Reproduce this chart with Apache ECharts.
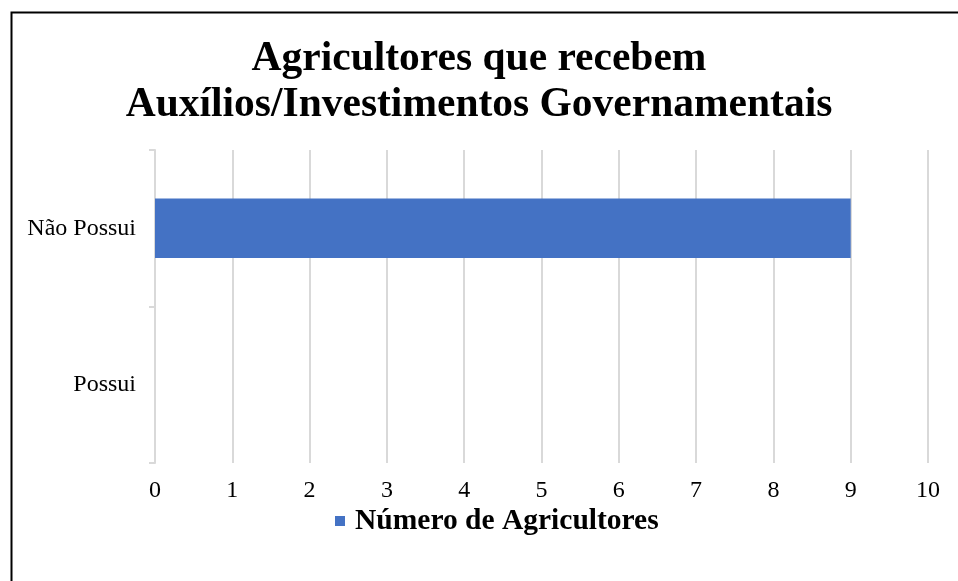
<!DOCTYPE html>
<html><head><meta charset="utf-8">
<script src="https://cdn.jsdelivr.net/npm/echarts@6/dist/echarts.min.js"></script>
<style>html,body{margin:0;padding:0;background:#fff}#c{width:958px;height:581px}</style>
</head><body><div id="c"></div>
<script>
const titleText = 'Agricultores que recebem\nAuxílios/Investimentos Governamentais';
const categories = ['Possui', 'Não Possui'];
const seriesName = 'Número de Agricultores';
const values = [0, 9];
const xMin = 0, xMax = 10, xInterval = 1;

const chart = echarts.init(document.getElementById('c'));
const font = '"Liberation Serif", "Times New Roman", serif';
chart.setOption({
  backgroundColor: '#fff',
  animation: false,
  textStyle: { fontFamily: font },
  graphic: [{
    type: 'rect', left: 9, top: 10,
    shape: { x: 0, y: 0, width: 1000, height: 700 },
    style: { fill: 'none', stroke: '#000', lineWidth: 2 }, z: -1
  }],
  title: {
    text: titleText, left: 'center', top: 31,
    textStyle: { fontFamily: font, fontSize: 41.5, fontWeight: 'bold', color: '#000', lineHeight: 46 }
  },
  legend: {
    data: [seriesName], top: 501, left: 330,
    icon: 'rect', itemWidth: 10, itemHeight: 10, itemGap: 8,
    textStyle: { fontFamily: font, fontSize: 29.5, fontWeight: 'bold', color: '#000', padding: [0, 0, 0, 5] }
  },
  grid: { left: 155, right: 30, top: 150, bottom: 118 },
  xAxis: {
    type: 'value', min: xMin, max: xMax, interval: xInterval,
    axisLine: { show: false }, axisTick: { show: false },
    axisLabel: { fontFamily: font, fontSize: 24, color: '#000', margin: 16 },
    splitLine: { show: true, lineStyle: { color: '#d9d9d9', width: 2 } }
  },
  yAxis: {
    type: 'category', data: categories,
    axisLine: { show: true, lineStyle: { color: '#d9d9d9', width: 2 } },
    axisTick: { show: true, length: 6, lineStyle: { color: '#d9d9d9', width: 2 } },
    axisLabel: { fontFamily: font, fontSize: 24, color: '#000', margin: 19 }
  },
  series: [{
    name: seriesName, type: 'bar', data: values, barWidth: '38%',
    itemStyle: { color: '#4472C4' }
  }]
});
</script></body></html>
